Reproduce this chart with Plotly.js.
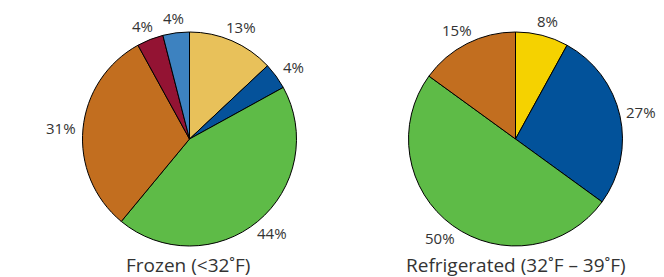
<!DOCTYPE html>
<html>
<head>
<meta charset="utf-8">
<script src="https://cdn.plot.ly/plotly-3.0.1.min.js"></script>
<style>html,body{margin:0;padding:0;background:#fff;}#chart{width:664px;height:277px;}</style>
</head>
<body>
<div id="chart"></div>
<script>
const frozenValues = [13, 4, 44, 31, 4, 4];
const frozenColors = ['#E8C15A', '#05529A', '#5EBB47', '#C26E1F', '#931333', '#3D82C0'];
const refrigValues = [8, 27, 50, 15];
const refrigColors = ['#F5D200', '#02529A', '#5EBB47', '#C26E1F'];
const titles = ['Frozen (<32˚F)', 'Refrigerated (32˚F – 39˚F)'];

const W = 664, H = 277;
const R = 107;
const centers = [[189.5, 139], [515.5, 139]];
function dom(cx, cy, r) {
  return {x: [(cx - r) / W, (cx + r) / W], y: [(H - cy - r) / H, (H - cy + r) / H]};
}
const labelFont = {family: 'Open Sans, sans-serif', size: 15, color: '#333333'};
const titleFont = {family: 'Open Sans, sans-serif', size: 19, color: '#333333'};
function pie(values, colors, d) {
  return {
    type: 'pie', values: values, sort: false, direction: 'clockwise', rotation: 0,
    marker: {colors: colors, line: {color: '#000', width: 1}},
    textinfo: 'none', hoverinfo: 'none', showlegend: false, domain: d
  };
}
// outside percentage labels, centred on each slice's mid-angle direction
function labels(values, c) {
  const total = values.reduce((a, b) => a + b, 0);
  let cum = 0;
  const out = [];
  const RX = R + 22, RY = R + 15;
  values.forEach(v => {
    const mid = (cum + v / 2) / total * 2 * Math.PI;
    cum += v;
    const px = c[0] + Math.sin(mid) * RX, py = c[1] - Math.cos(mid) * RY;
    out.push({
      text: v + '%', x: px / W, y: 1 - py / H, xref: 'paper', yref: 'paper', showarrow: false,
      xanchor: 'center', yanchor: 'middle', font: labelFont, borderpad: 0
    });
  });
  return out;
}
const data = [
  pie(frozenValues, frozenColors, dom(centers[0][0], centers[0][1], R)),
  pie(refrigValues, refrigColors, dom(centers[1][0], centers[1][1], R))
];
const annotations = labels(frozenValues, centers[0]).concat(labels(refrigValues, centers[1]));
annotations.push(
  {text: titles[0], x: 188 / W, y: 1 - 265 / H, xref: 'paper', yref: 'paper', showarrow: false,
   xanchor: 'center', yanchor: 'middle', font: titleFont},
  {text: titles[1], x: 516 / W, y: 1 - 265 / H, xref: 'paper', yref: 'paper', showarrow: false,
   xanchor: 'center', yanchor: 'middle', font: titleFont}
);
const layout = {
  width: W, height: H, margin: {l: 0, r: 0, t: 0, b: 0},
  paper_bgcolor: '#fff', showlegend: false, annotations: annotations
};
Plotly.newPlot('chart', data, layout, {staticPlot: true});
</script>
</body>
</html>
